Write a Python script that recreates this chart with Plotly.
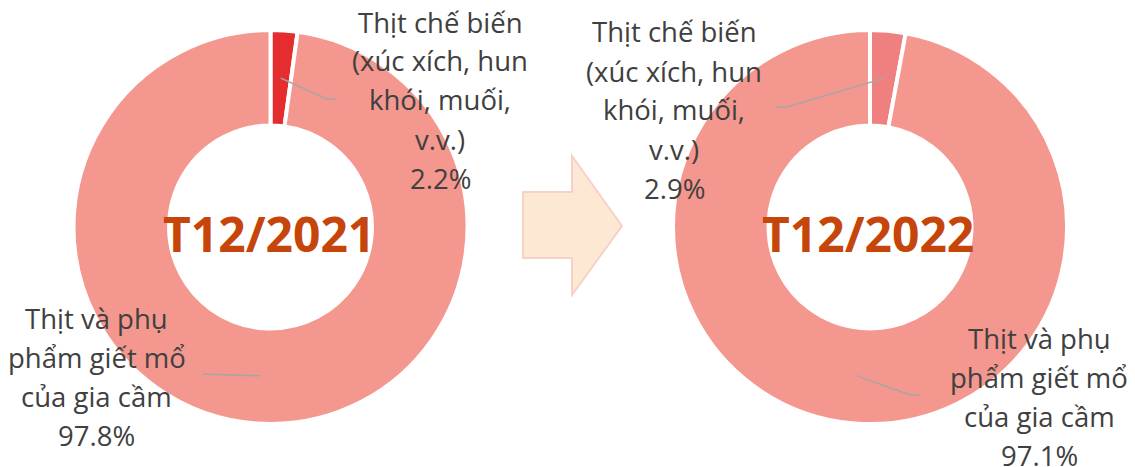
import math
import plotly.graph_objects as go

W, H = 1135, 467
OFF = 8  # page body margin, compensated so the picture lines up

periods = ["T12/2021", "T12/2022"]
categories = ["Thịt chế biến (xúc xích, hun khói, muối, v.v.)",
              "Thịt và phụ phẩm giết mổ của gia cầm"]
share_2021 = [2.2, 97.8]
share_2022 = [2.9, 97.1]

# label lines for each category (wrapped like the original)
label_lines = [["Thịt chế biến", "(xúc xích, hun", "khói, muối,", "v.v.)"],
               ["Thịt và phụ", "phẩm giết mổ", "của gia cầm"]]

colors_2021 = ["#E52D30", "#F4978E"]
colors_2022 = ["#F08080", "#F4978E"]

HOLE = 0.515
R = 197
centers = [(270.5, 227), (870, 227)]


def px(x, y):
    return (x - OFF) / W, 1 - (y - OFF) / H


fig = go.Figure()
for (cx, cy), vals, cols in zip(centers, [share_2021, share_2022], [colors_2021, colors_2022]):
    x0, y1 = px(cx - R, cy - R)
    x1, y0 = px(cx + R, cy + R)
    fig.add_trace(go.Pie(
        labels=categories, values=vals, hole=HOLE, sort=False,
        direction="clockwise", rotation=0, textinfo="none",
        marker=dict(colors=cols, line=dict(color="white", width=4)),
        domain=dict(x=[x0, x1], y=[y0, y1]),
        showlegend=False, hoverinfo="label+percent"))

# centre titles
for (cx, cy), name in zip(centers, periods):
    x, y = px(cx - 2, cy + 6)
    fig.add_annotation(x=x, y=y, xref="paper", yref="paper", text="<b>%s</b>" % name,
                       showarrow=False, xanchor="center", yanchor="middle",
                       font=dict(family="Open Sans", size=48, color="#C5450A"))

# label layout: (text centre x, first line y) and leader elbow/end per chart per slice
label_pos = [[(440, 22), (97, 318)], [(674, 32), (1039, 338)]]
leader_pts = [[[(327, 99), (337, 99)], [(230, 375), (203, 374)]],
              [[(787, 107), (775, 107)], [(910, 395), (920, 395)]]]
LINE_STEP = 39

for ci, ((cx, cy), vals) in enumerate(zip(centers, [share_2021, share_2022])):
    total = sum(vals)
    cum = 0
    for si, v in enumerate(vals):
        ang = math.radians((cum + v / 2) / total * 360)
        cum += v
        rmid = R * (1 + HOLE) / 2
        sx, sy = cx + rmid * math.sin(ang), cy - rmid * math.cos(ang)
        pts = [(sx, sy)] + leader_pts[ci][si]
        path = "M " + " L ".join("%f,%f" % px(a, b) for a, b in pts)
        fig.add_shape(type="path", path=path, xref="paper", yref="paper",
                      line=dict(color="#A6A6A6", width=1.5))
        lines = label_lines[si] + ["%.1f%%" % v]
        lx, ly = label_pos[ci][si]
        for k, t in enumerate(lines):
            x, y = px(lx, ly + k * LINE_STEP)
            fig.add_annotation(x=x, y=y, xref="paper", yref="paper", text=t,
                               showarrow=False, xanchor="center", yanchor="middle",
                               font=dict(family="Open Sans", size=27.5, color="#404040"))

# arrow between the two charts
arrow = [(523, 192), (572, 192), (572, 156), (622, 226), (572, 295), (572, 258), (523, 258)]
fig.add_shape(type="path", xref="paper", yref="paper",
              path="M " + " L ".join("%f,%f" % px(a, b) for a, b in arrow) + " Z",
              fillcolor="#FCE8D3", line=dict(color="#F9D0C8", width=2), layer="below")

fig.update_layout(width=W, height=H, margin=dict(l=0, r=0, t=0, b=0),
                  paper_bgcolor="white", plot_bgcolor="white")
fig.write_html("out.html")
